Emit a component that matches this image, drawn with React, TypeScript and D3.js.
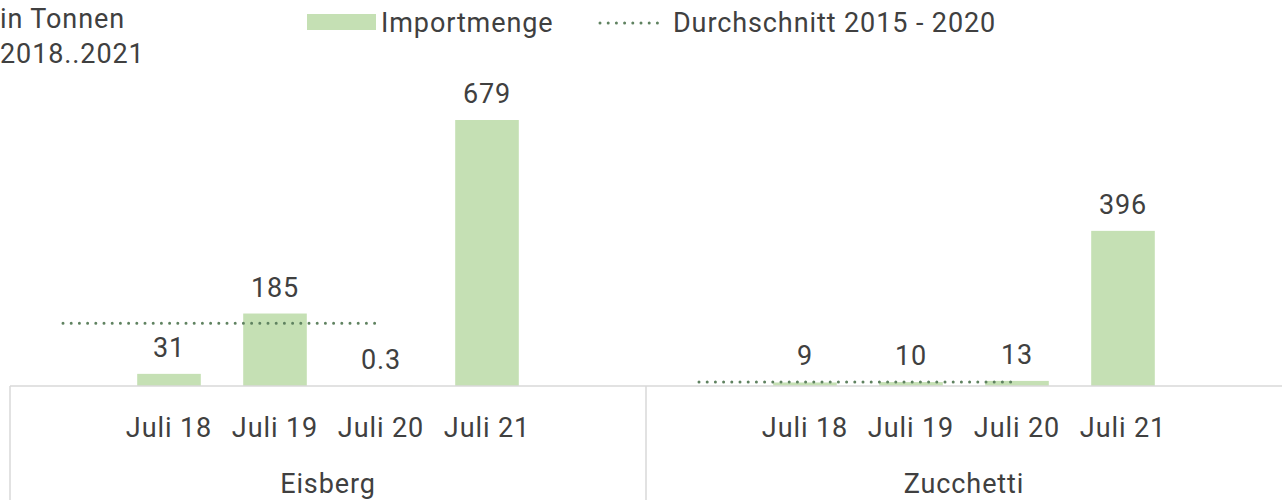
import React, {useEffect, useRef} from 'react';
import * as d3 from 'd3';

const groups = ['Eisberg', 'Zucchetti'];
const months = ['Juli 18', 'Juli 19', 'Juli 20', 'Juli 21'];
const eisbergValues = [31, 185, 0.3, 679];
const zucchettiValues = [9, 10, 13, 396];
const averages = [160, 10];
const valueLabels = [['31', '185', '0.3', '679'], ['9', '10', '13', '396']];

const FONT = 'Roboto, "Noto Sans", sans-serif';
const SIZE = '27px';
const SPACING = '0.9px';
const TEXT = '#404040';
const BAR = '#c5e0b4';
const DOTS = '#5f8260';
const GRID = '#d9d9d9';

export default function App() {
    const ref = useRef<SVGSVGElement>(null);

    useEffect(() => {
        const width = 1282, height = 500;
        const svg = d3.select(ref.current);
        svg.selectAll('*').remove();

        const base = 386;
        const y = d3.scaleLinear().domain([0, 679]).range([base, 120]);

        const x0 = d3.scaleBand().domain(groups).range([10, width]);
        const x1 = d3.scaleBand().domain(months).range([0, x0.bandwidth()])
            .paddingInner(0.4).paddingOuter(1.2);

        const series = [eisbergValues, zucchettiValues];

        const styleText = (sel: any) => sel
            .style('font-family', FONT)
            .style('font-size', SIZE)
            .style('letter-spacing', SPACING)
            .attr('fill', TEXT);

        groups.forEach((g, gi) => {
            const gx = x0(g) as number;
            const vals = series[gi];
            const cx = (m: string) => (x1(m) as number) + x1.bandwidth() / 2;

            const grp = svg.append('g').attr('transform', `translate(${gx},0)`);

            // bars
            grp.selectAll('rect.bar')
                .data(months)
                .enter()
                .append('rect')
                .attr('class', 'bar')
                .attr('x', d => x1(d) as number)
                .attr('y', (d, i) => y(vals[i]))
                .attr('width', x1.bandwidth())
                .attr('height', (d, i) => base - y(vals[i]))
                .attr('fill', BAR);

            // value labels above bars
            grp.selectAll('text.val')
                .data(months)
                .enter()
                .append('text')
                .attr('class', 'val')
                .attr('x', d => cx(d))
                .attr('y', (d, i) => y(vals[i]) - 17)
                .attr('text-anchor', 'middle')
                .call(styleText)
                .text((d, i) => valueLabels[gi][i]);

            // average line: starts one step before the first month, ends at the third
            const avgX = [cx(months[0]) - x1.step(), cx(months[2])];
            const line = d3.line<number>().x(d => d).y(() => y(averages[gi]));
            grp.append('path')
                .attr('d', line(avgX))
                .attr('fill', 'none')
                .attr('stroke', DOTS)
                .attr('stroke-width', 3)
                .attr('stroke-linecap', 'round')
                .attr('stroke-dasharray', '0 8.2');

            // month labels
            grp.selectAll('text.month')
                .data(months)
                .enter()
                .append('text')
                .attr('class', 'month')
                .attr('x', d => cx(d))
                .attr('y', 437)
                .attr('text-anchor', 'middle')
                .call(styleText)
                .text(d => d);

            // group label
            grp.append('text')
                .attr('x', x0.bandwidth() / 2)
                .attr('y', 493)
                .attr('text-anchor', 'middle')
                .call(styleText)
                .text(g);
        });

        // axis line and group dividers
        svg.append('line')
            .attr('x1', 10).attr('x2', width)
            .attr('y1', base).attr('y2', base)
            .attr('stroke', GRID).attr('stroke-width', 1.5);

        svg.selectAll('line.div')
            .data(groups)
            .enter()
            .append('line')
            .attr('class', 'div')
            .attr('x1', d => x0(d) as number)
            .attr('x2', d => x0(d) as number)
            .attr('y1', base).attr('y2', height)
            .attr('stroke', GRID).attr('stroke-width', 1.5);

        // unit title
        const title = svg.append('text').call(styleText);
        title.append('tspan').attr('x', 0).attr('y', 28).text('in Tonnen');
        title.append('tspan').attr('x', 0).attr('y', 63).text('2018..2021');

        // legend
        const legend = svg.append('g');
        legend.append('rect')
            .attr('x', 307).attr('y', 14)
            .attr('width', 69).attr('height', 16)
            .attr('fill', BAR);
        legend.append('text')
            .attr('x', 381).attr('y', 32)
            .call(styleText)
            .text('Importmenge');
        legend.append('line')
            .attr('x1', 600).attr('x2', 658)
            .attr('y1', 23).attr('y2', 23)
            .attr('stroke', DOTS)
            .attr('stroke-width', 3)
            .attr('stroke-linecap', 'round')
            .attr('stroke-dasharray', '0 8.2');
        legend.append('text')
            .attr('x', 673).attr('y', 32)
            .call(styleText)
            .text('Durchschnitt 2015 - 2020');
    }, []);

    return (
        <svg ref={ref} width={1282} height={500}
             style={{position: 'absolute', left: 0, top: 0, background: '#fff'}}/>
    );
}
